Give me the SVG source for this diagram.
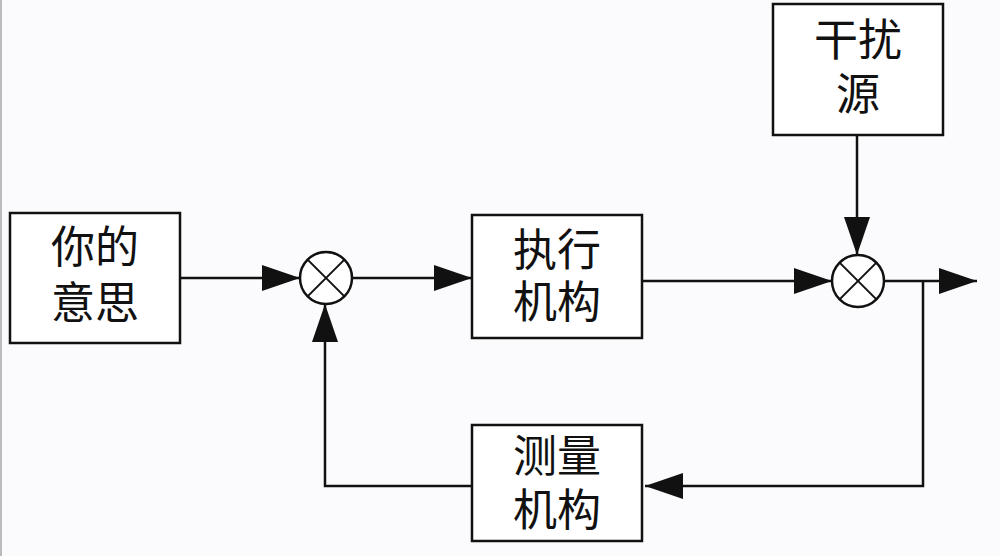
<svg xmlns="http://www.w3.org/2000/svg" width="1000" height="556" viewBox="0 0 1000 556">
<style>
.box{fill:#ffffff;stroke:#111;stroke-width:2.5}
.sum{fill:#ffffff;stroke:#111;stroke-width:2.5}
.x{stroke:#111;stroke-width:2}
.wire{fill:none;stroke:#111;stroke-width:2.5}
.lbl{font-family:"Noto Sans CJK SC","Noto Sans",sans-serif;font-size:44px;fill:#111;text-anchor:middle}
</style>
<defs>
<marker id="arr" markerUnits="userSpaceOnUse" markerWidth="40" markerHeight="26" refX="38" refY="13" orient="auto">
<path d="M0,0 L38,13 L0,26 z" fill="#111"/>
</marker>
</defs>
<rect width="1000" height="556" fill="#fbfbfd"/>
<line x1="1" y1="0" x2="1" y2="556" stroke="#bbb" stroke-width="2"/>
<g id="connectors">
<line class="wire" x1="180" y1="278" x2="300" y2="278" marker-end="url(#arr)"/>
<line class="wire" x1="352" y1="278" x2="472" y2="278" marker-end="url(#arr)"/>
<line class="wire" x1="642" y1="281" x2="832" y2="281" marker-end="url(#arr)"/>
<line class="wire" x1="857" y1="135" x2="857" y2="255" marker-end="url(#arr)"/>
<line class="wire" x1="884" y1="281" x2="977" y2="281" marker-end="url(#arr)"/>
<polyline class="wire" points="923,281 923,486 645,486" marker-end="url(#arr)"/>
<polyline class="wire" points="472,486 325,486 325,304" marker-end="url(#arr)"/>
</g>
<g id="intent">
<rect class="box" x="10" y="213" width="170" height="130"/>
<text class="lbl" x="95" y="263">你的<tspan x="95" dy="56">意思</tspan></text>
</g>
<g id="sum1">
<circle class="sum" cx="326" cy="278" r="26"/>
<line class="x" x1="307.6" y1="259.6" x2="344.4" y2="296.4"/>
<line class="x" x1="344.4" y1="259.6" x2="307.6" y2="296.4"/>
</g>
<g id="actuator">
<rect class="box" x="472" y="215" width="170" height="123"/>
<text class="lbl" x="557" y="266">执行<tspan x="557" dy="52">机构</tspan></text>
</g>
<g id="disturbance">
<rect class="box" x="773" y="4" width="170" height="131"/>
<text class="lbl" x="858" y="56">干扰<tspan x="858" dy="54">源</tspan></text>
</g>
<g id="sum2">
<circle class="sum" cx="858" cy="281" r="26"/>
<line class="x" x1="839.6" y1="262.6" x2="876.4" y2="299.4"/>
<line class="x" x1="876.4" y1="262.6" x2="839.6" y2="299.4"/>
</g>
<g id="measure">
<rect class="box" x="472" y="425" width="170" height="116"/>
<text class="lbl" x="557" y="472">测量<tspan x="557" dy="54">机构</tspan></text>
</g>
</svg>
